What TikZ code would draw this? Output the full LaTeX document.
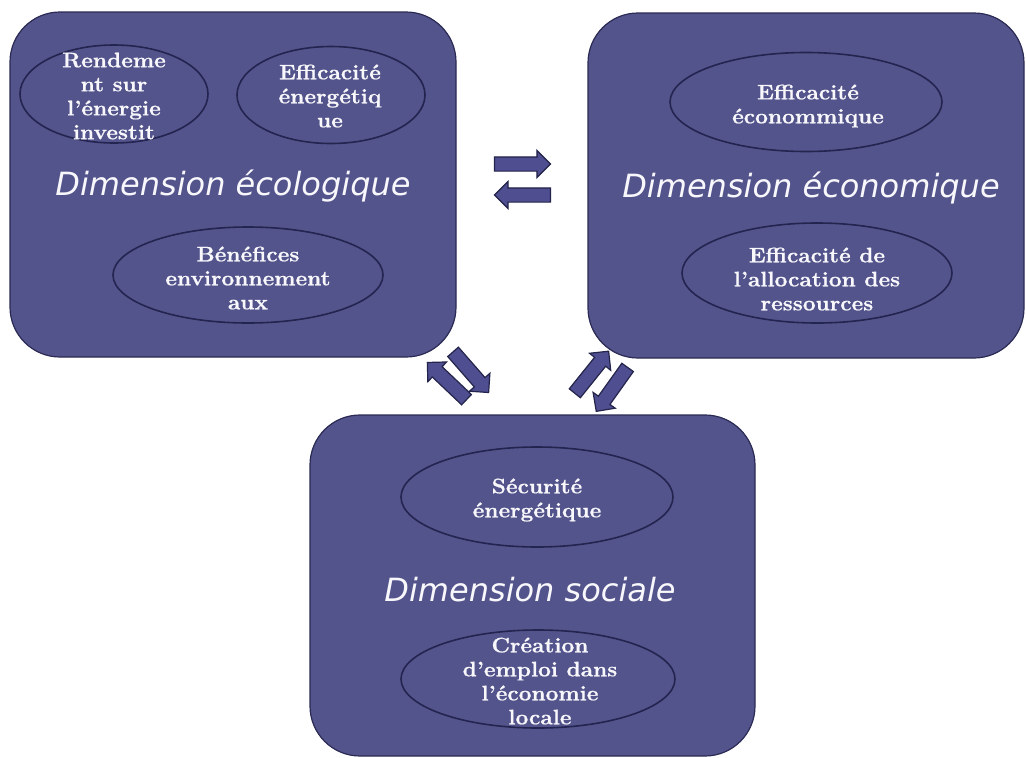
\documentclass[tikz,border=0pt]{standalone}
\usepackage{fontspec}
\setmainfont{Latin Modern Roman}
\newfontfamily\ellfont[FakeStretch=1.08,FakeBold=0.8]{Latin Modern Roman}
\newfontfamily\titlefont{DejaVu Sans}
\usetikzlibrary{shapes.geometric,shapes.arrows}

\definecolor{panelfill}{RGB}{84,84,140}
\definecolor{panelline}{RGB}{42,42,84}
\definecolor{ovalline}{RGB}{36,36,80}
\definecolor{arrowfill}{RGB}{78,78,145}
\definecolor{arrowline}{RGB}{36,36,74}
\definecolor{labeltext}{RGB}{248,248,252}

\tikzset{
  panel/.style={draw=panelline, line width=1.2pt, fill=panelfill,
    rounded corners=50pt, inner sep=0pt},
  oval/.style={ellipse, draw=ovalline, line width=1.6pt, fill=panelfill, inner sep=0pt},
  ovaltext/.style={text=labeltext, align=center, inner sep=0pt,
    font=\ellfont\bfseries\fontsize{21}{24}\selectfont},
  paneltitle/.style={text=labeltext, inner sep=0pt,
    font=\titlefont\itshape\fontsize{32}{38}\selectfont},
  blockarrow/.style={single arrow, draw=arrowline, line width=1.2pt, fill=arrowfill,
    inner xsep=0pt, inner ysep=6.5pt, single arrow head extend=6.5pt,
    single arrow head indent=0pt, minimum height=#1},
  blockarrow/.default=56pt
}

\begin{document}
\begin{tikzpicture}[x=1pt, y=-1pt]
\useasboundingbox (0,0) rectangle (1026,758);

% panels
\node[panel, minimum width=446pt, minimum height=345pt] (eco) at (233,184.5) {};
\node[panel, minimum width=436pt, minimum height=345pt] (econ) at (806,185.5) {};
\node[panel, minimum width=445pt, minimum height=341pt] (soc) at (532.5,585.5) {};

% ecological dimension
\node[oval, minimum width=188pt, minimum height=98pt] (e1) at (114,94) {};
\node[ovaltext] (e1t) at (114,96) {Rendeme\\nt sur\\l’énergie\\investit};
\node[oval, minimum width=188pt, minimum height=97pt] (e2) at (331,95) {};
\node[ovaltext] (e2t) at (330,96) {Efficacité\\énergétiq\\ue};
\node[oval, minimum width=270pt, minimum height=96pt] (e3) at (248,275) {};
\node[ovaltext] (e3t) at (248,278) {Bénéfices\\environnement\\aux};
\node[paneltitle] (ecot) at (233,186) {Dimension écologique};

% economic dimension
\node[oval, minimum width=272pt, minimum height=99pt] (c1) at (806,102) {};
\node[ovaltext] (c1t) at (808,106) {Efficacité\\économmique};
\node[oval, minimum width=270pt, minimum height=100pt] (c2) at (817,273) {};
\node[ovaltext] (c2t) at (817,279) {Efficacité de\\l’allocation des\\ressources};
\node[paneltitle] (econt) at (811,188) {Dimension économique};

% social dimension
\node[oval, minimum width=272pt, minimum height=100pt] (s1) at (537,497) {};
\node[ovaltext] (s1t) at (537,500) {Sécurité\\énergétique};
\node[oval, minimum width=274pt, minimum height=98pt] (s2) at (538,679) {};
\node[ovaltext] (s2t) at (540,681) {Création\\d’emploi dans\\l’économie\\locale};
\node[paneltitle] (soct) at (530,590) {Dimension sociale};

% exchange arrows
\node[blockarrow] (a1) at (519,164) {};
\node[blockarrow, rotate=180] (a2) at (526,195) {};
\node[blockarrow=54pt, rotate=136.5] (a3) at (449.5,383.5) {};
\node[blockarrow=54pt, rotate=-48.8] (a4) at (468.5,369.5) {};
\node[blockarrow=54pt, rotate=51.2] (a5) at (589.5,375) {};
\node[blockarrow=54pt, rotate=-125.5] (a6) at (614,386.5) {};
\end{tikzpicture}
\end{document}
